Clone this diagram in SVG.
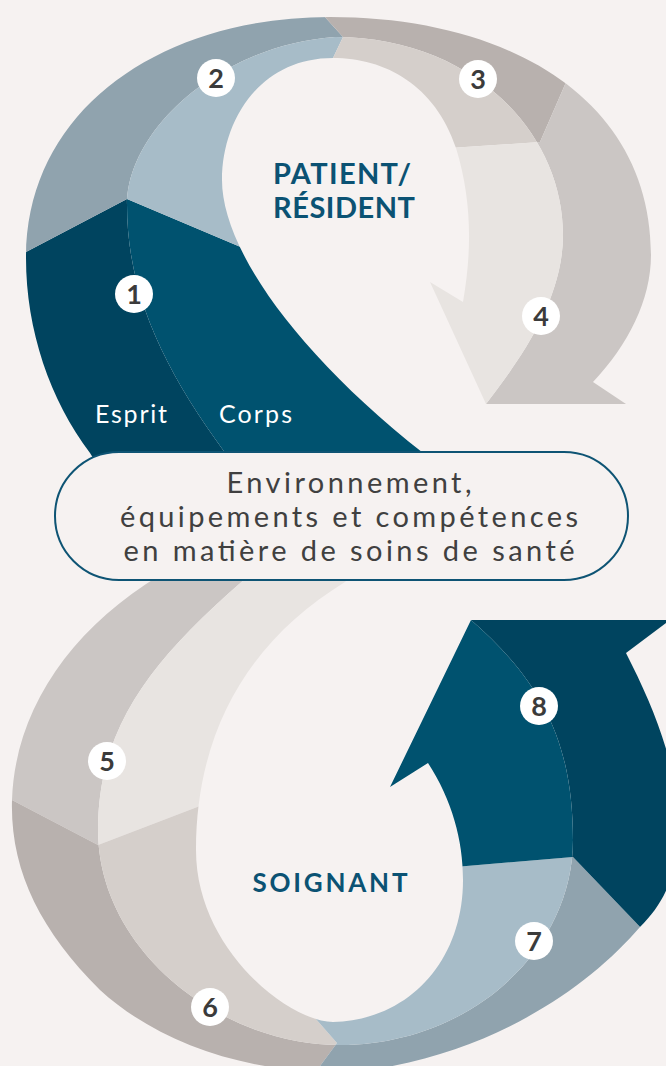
<svg xmlns="http://www.w3.org/2000/svg" width="666" height="1066" viewBox="0 0 666 1066">
<style>
.num{font-family:Lato,"Liberation Sans",sans-serif;font-weight:700;font-size:27px;fill:#3b3b3b;text-anchor:middle}
.badge{fill:#ffffff}
.title{font-family:Lato,"Liberation Sans",sans-serif;font-weight:700;fill:#0b5273;text-anchor:middle}
.side{font-family:Lato,"Liberation Sans",sans-serif;font-size:25px;fill:#ffffff}
.main{font-family:Lato,"Liberation Sans",sans-serif;font-size:29px;fill:#404040;text-anchor:middle}
</style>
<defs>
<clipPath id="topOuter"><path d="M 98,466 L 90,453 C 50,400 26,330 26,258 C 26,110 160,17 330,17 C 510,17 651,100 651,255 C 651,300 628,345 593,382 L 626,404 L 486,404 C 520,360 563,300 563,235 C 563,130 470,37 335,37 C 220,45 127,130 127,205 C 127,300 170,380 235,466 Z"/></clipPath>
<clipPath id="topInner"><path d="M 235,466 C 170,380 127,300 127,205 C 127,130 220,45 335,37 C 470,37 563,130 563,235 C 563,300 520,360 486,404 L 430,282 L 463,302 C 472,250 472,200 456,148 C 435,85 385,58 333,58 C 260,58 222,120 222,180 C 222,250 300,360 440,466 Z"/></clipPath>
<clipPath id="botOuter"><path d="M 670,620 L 626,653 C 655,710 680,770 678,835 C 676,880 662,905 640,927 C 590,985 500,1050 370,1070 C 260,1080 160,1045 100,990 C 40,930 10,870 12,800 C 15,710 70,630 160,575 L 172,562 L 265,562 C 160,650 98,720 98,830 C 98,950 220,1045 340,1045 C 470,1045 573,950 573,840 C 573,740 540,680 471,620 Z"/></clipPath>
<clipPath id="botInner"><path d="M 265,562 C 160,650 98,720 98,830 C 98,950 220,1045 340,1045 C 470,1045 573,950 573,840 C 573,740 540,680 471,620 L 390,787 L 428,763 C 452,800 463,840 463,880 C 463,960 410,1020 333,1022 C 290,1022 196,950 196,850 C 196,730 250,640 345,582 L 365,562 Z"/></clipPath>
</defs>
<rect width="666" height="1066" fill="#f6f2f1"/>
<g id="connectors"/>
<g id="seg1">
<path clip-path="url(#topOuter)" fill="#00445f" d="M -20,276 L 127,199 L 262,256 L 360,300 L 520,500 L -20,500 Z"/>
<path clip-path="url(#topInner)" fill="#00526f" d="M -20,276 L 127,199 L 262,256 L 360,300 L 520,500 L -20,500 Z"/>
</g>
<g id="seg2">
<path clip-path="url(#topOuter)" fill="#90a3ae" d="M -20,276 L 127,199 L 262,256 L 323,79 L 343,37 L 305,-5 L -20,-5 Z"/>
<path clip-path="url(#topInner)" fill="#a7bcc8" d="M -20,276 L 127,199 L 262,256 L 323,79 L 343,37 L 305,-5 L -20,-5 Z"/>
</g>
<g id="seg3">
<path clip-path="url(#topOuter)" fill="#b8b1ae" d="M 305,-5 L 343,37 L 323,79 L 420,150 L 540,142 L 604,-5 Z"/>
<path clip-path="url(#topInner)" fill="#d5cfcb" d="M 305,-5 L 343,37 L 323,79 L 420,150 L 540,142 L 604,-5 Z"/>
</g>
<g id="seg4">
<path clip-path="url(#topOuter)" fill="#cbc6c4" d="M 604,-5 L 540,142 L 420,150 L 360,300 L 520,500 L 700,500 L 700,-5 Z"/>
<path clip-path="url(#topInner)" fill="#e8e4e1" d="M 604,-5 L 540,142 L 420,150 L 360,300 L 520,500 L 700,500 L 700,-5 Z"/>
</g>
<g id="seg5">
<path clip-path="url(#botOuter)" fill="#cbc6c4" d="M -40,773 L 98,845 L 260,783 L 420,560 L -40,560 Z"/>
<path clip-path="url(#botInner)" fill="#e8e4e1" d="M -40,773 L 98,845 L 260,783 L 420,560 L -40,560 Z"/>
</g>
<g id="seg6">
<path clip-path="url(#botOuter)" fill="#b8b1ae" d="M -40,773 L 98,845 L 260,783 L 308,1010 L 337,1043 L 295,1100 L -40,1100 Z"/>
<path clip-path="url(#botInner)" fill="#d5cfcb" d="M -40,773 L 98,845 L 260,783 L 308,1010 L 337,1043 L 295,1100 L -40,1100 Z"/>
</g>
<g id="seg7">
<path clip-path="url(#botOuter)" fill="#90a3ae" d="M 295,1100 L 337,1043 L 308,1010 L 420,870 L 573,857 L 710,1000 L 720,1100 Z"/>
<path clip-path="url(#botInner)" fill="#a7bcc8" d="M 295,1100 L 337,1043 L 308,1010 L 420,870 L 573,857 L 710,1000 L 720,1100 Z"/>
</g>
<g id="seg8">
<path clip-path="url(#botOuter)" fill="#00445f" d="M 420,870 L 573,857 L 710,1000 L 720,1000 L 720,560 L 440,560 L 370,800 Z"/>
<path clip-path="url(#botInner)" fill="#00526f" d="M 420,870 L 573,857 L 710,1000 L 720,1000 L 720,560 L 440,560 L 370,800 Z"/>
</g>
<g id="labels-side">
<text class="side" x="95" y="423" textLength="72" lengthAdjust="spacing">Esprit</text>
<text class="side" x="219" y="423" textLength="73" lengthAdjust="spacing">Corps</text>
</g>
<g id="center-pill">
<rect x="55" y="452" width="573" height="128" rx="64" ry="64" fill="#f6f2f1" stroke="#0e5474" stroke-width="2"/>
<text class="main" x="349" y="493" textLength="245" lengthAdjust="spacing">Environnement,</text>
<text class="main" x="349" y="527" textLength="458" lengthAdjust="spacing">équipements et compétences</text>
<text class="main" x="349" y="561" textLength="451" lengthAdjust="spacing">en matière de soins de santé</text>
</g>
<g id="title-patient">
<text class="title" font-size="29" x="342" y="184" textLength="138" lengthAdjust="spacing">PATIENT/</text>
<text class="title" font-size="29" x="344" y="218" textLength="142" lengthAdjust="spacing">RÉSIDENT</text>
</g>
<g id="title-soignant">
<text class="title" font-size="26" x="330" y="892" textLength="155" lengthAdjust="spacing">SOIGNANT</text>
</g>
<g id="badge1"><circle class="badge" cx="134" cy="294" r="19"/><text class="num" x="134" y="304">1</text></g>
<g id="badge2"><circle class="badge" cx="216" cy="78" r="19"/><text class="num" x="216" y="88">2</text></g>
<g id="badge3"><circle class="badge" cx="478" cy="79" r="19"/><text class="num" x="478" y="89">3</text></g>
<g id="badge4"><circle class="badge" cx="541" cy="316" r="19"/><text class="num" x="541" y="326">4</text></g>
<g id="badge5"><circle class="badge" cx="107" cy="761" r="19"/><text class="num" x="107" y="771">5</text></g>
<g id="badge6"><circle class="badge" cx="210" cy="1007" r="19"/><text class="num" x="210" y="1017">6</text></g>
<g id="badge7"><circle class="badge" cx="534" cy="941" r="19"/><text class="num" x="534" y="951">7</text></g>
<g id="badge8"><circle class="badge" cx="539" cy="706" r="19"/><text class="num" x="539" y="716">8</text></g>
</svg>
